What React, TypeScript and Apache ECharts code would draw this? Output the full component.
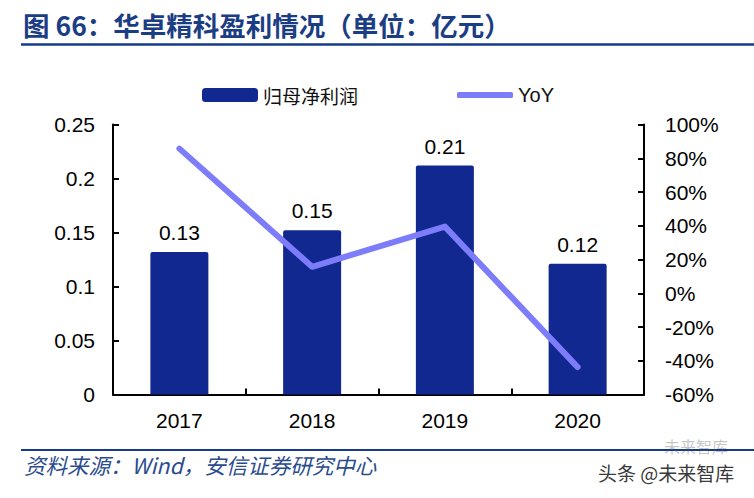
import React, { useEffect, useRef } from "react";
import * as echarts from "echarts";

const categories = ["2017", "2018", "2019", "2020"];
const profitValues = [0.132, 0.152, 0.212, 0.121];
const yoyValues = [85.7, 15.7, 39.5, -43.8];
const seriesNames = ["归母净利润", "YoY"];
const titleText = "图 66：华卓精科盈利情况（单位：亿元）";
const sourceText = "资料来源：Wind，安信证券研究中心";
const watermarkText = "头条 @未来智库";

const BAR_COLOR = "#10288f";
const LINE_COLOR = "#7d7dfb";
const TITLE_COLOR = "#1b3d84";
const RULE_COLOR = "#163a8c";
const NUM_FONT = "'Liberation Sans', Arial, sans-serif";
const CJK_FONT = "'Noto Sans CJK SC', 'Liberation Sans', sans-serif";

export default function App() {
  const ref = useRef<HTMLDivElement>(null);
  useEffect(() => {
    if (!ref.current) return;
    const chart = echarts.init(ref.current, undefined, { renderer: "svg" });
    chart.setOption({
      animation: false,
      backgroundColor: "#ffffff",
      grid: { left: 113, right: 110, top: 124.5, bottom: 103.5, containLabel: false },
      legend: [
        {
          left: 197,
          top: 80,
          itemWidth: 56,
          itemHeight: 14,
          icon: "roundRect",
          data: [seriesNames[0]],
          textStyle: { fontFamily: CJK_FONT, fontSize: 19, color: "#111", lineHeight: 20 },
        },
        {
          left: 452,
          top: 80,
          itemWidth: 56,
          itemHeight: 6,
          icon: "roundRect",
          data: [seriesNames[1]],
          textStyle: { fontFamily: NUM_FONT, fontSize: 20, color: "#111", lineHeight: 20 },
        },
      ],
      xAxis: {
        type: "category",
        data: categories,
        boundaryGap: true,
        axisLine: { show: true, lineStyle: { color: "#000", width: 2 } },
        axisTick: { show: true, inside: true, length: 6, lineStyle: { color: "#000", width: 2 } },
        axisLabel: { fontFamily: NUM_FONT, fontSize: 21, color: "#000", margin: 15 },
      },
      yAxis: [
        {
          type: "value",
          min: 0,
          max: 0.25,
          interval: 0.05,
          axisLine: { show: true, lineStyle: { color: "#000", width: 2 } },
          axisTick: { show: true, inside: true, length: 6, lineStyle: { color: "#000", width: 2 } },
          splitLine: { show: false },
          axisLabel: {
            fontFamily: NUM_FONT,
            fontSize: 21,
            color: "#000",
            margin: 18,
            formatter: (v: number) => String(parseFloat(v.toFixed(2))),
          },
        },
        {
          type: "value",
          min: -60,
          max: 100,
          interval: 20,
          position: "right",
          axisLine: { show: true, lineStyle: { color: "#000", width: 2 } },
          axisTick: { show: true, inside: true, length: 6, lineStyle: { color: "#000", width: 2 } },
          splitLine: { show: false },
          axisLabel: {
            fontFamily: NUM_FONT,
            fontSize: 21,
            color: "#000",
            margin: 21,
            formatter: (v: number) => `${Math.round(v)}%`,
          },
        },
      ],
      series: [
        {
          name: seriesNames[0],
          type: "bar",
          data: profitValues,
          yAxisIndex: 0,
          barWidth: 58,
          itemStyle: { color: BAR_COLOR, borderRadius: [2, 2, 0, 0] },
          label: {
            show: true,
            position: "top",
            distance: 9,
            fontFamily: NUM_FONT,
            fontSize: 21,
            color: "#000",
            formatter: (p: any) => Number(p.value).toFixed(2),
          },
        },
        {
          name: seriesNames[1],
          type: "line",
          data: yoyValues,
          yAxisIndex: 1,
          symbol: "none",
          itemStyle: { color: LINE_COLOR },
          lineStyle: { color: LINE_COLOR, width: 6, cap: "round", join: "round" },
          z: 5,
        },
      ],
      graphic: [
        {
          type: "text",
          left: 23,
          top: 11,
          style: {
            text: titleText,
            fontFamily: CJK_FONT,
            fontSize: 26.5,
            fontWeight: "bold",
            fill: TITLE_COLOR,
          },
        },
        {
          type: "line",
          shape: { x1: 21, y1: 44.5, x2: 754, y2: 44.5 },
          style: { stroke: RULE_COLOR, lineWidth: 2.5 },
        },
        {
          type: "line",
          shape: { x1: 21, y1: 450, x2: 754, y2: 450 },
          style: { stroke: RULE_COLOR, lineWidth: 2 },
        },
        {
          type: "text",
          left: 24,
          top: 454,
          style: {
            text: sourceText,
            fontFamily: CJK_FONT,
            fontSize: 21.5,
            fontStyle: "italic",
            fill: "#2b4c8c",
          },
        },
        {
          type: "text",
          left: 664,
          top: 438,
          style: {
            text: "未来智库",
            fontFamily: CJK_FONT,
            fontSize: 16,
            fill: "rgba(90,90,90,0.35)",
          },
        },
        {
          type: "text",
          left: 598,
          top: 463,
          style: {
            text: watermarkText,
            fontFamily: CJK_FONT,
            fontSize: 19,
            fill: "#3a3a3a",
          },
        },
      ],
    });
    return () => chart.dispose();
  }, []);
  return (
    <div
      ref={ref}
      style={{ position: "fixed", left: 0, top: 0, width: 754, height: 498, background: "#fff" }}
    />
  );
}
